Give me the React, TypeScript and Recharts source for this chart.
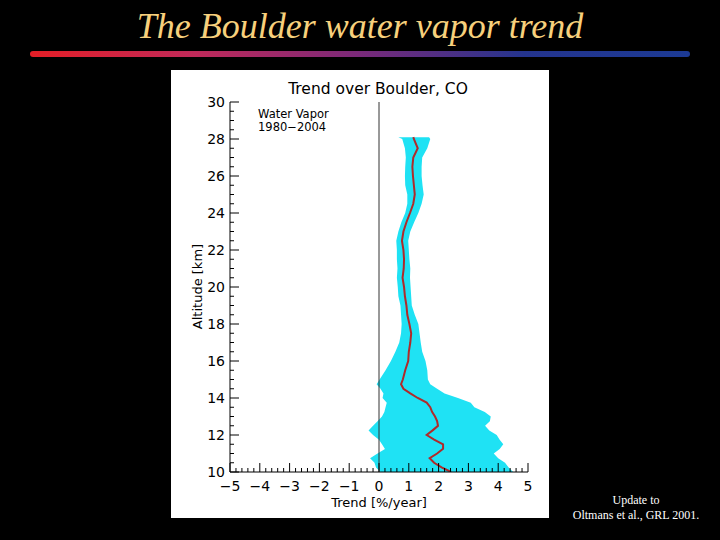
import { ComposedChart, Area, Line, XAxis, YAxis, ReferenceLine } from "recharts";

// altitude levels (km) and the water vapor trend (%/year) with its uncertainty band
const altitude = [
  10.0, 10.25, 10.5, 10.75, 11.0, 11.25, 11.5, 11.75, 12.0, 12.25, 12.5, 12.75, 13.0, 13.25, 13.5, 13.75,
  14.0, 14.25, 14.5, 14.75, 15.0, 15.5, 16.0, 16.5, 17.0, 17.5, 18.0, 18.5, 19.0, 19.5, 20.0, 20.5, 21.0,
  21.5, 22.0, 22.5, 23.0, 23.5, 24.0, 24.5, 25.0, 25.5, 26.0, 26.5, 27.0, 27.5, 28.0, 28.1,
];
const trend = [
  2.42, 2.1, 1.85, 1.7, 1.95, 2.15, 2.15, 1.85, 1.6, 1.8, 1.98, 1.95, 1.88, 1.78, 1.72, 1.6,
  1.3, 1.05, 0.82, 0.74, 0.8, 0.88, 0.98, 1.0, 1.05, 1.08, 1.02, 0.95, 0.92, 0.87, 0.84, 0.79, 0.83,
  0.84, 0.82, 0.77, 0.82, 0.92, 1.04, 1.15, 1.2, 1.17, 1.14, 1.12, 1.15, 1.3, 1.17, 1.15,
];
const lower = [
  0.05, -0.1, -0.15, -0.3, -0.05, 0.2, 0.1, 0.0, -0.2, -0.35, -0.2, -0.05, 0.1, 0.18, 0.22, 0.26,
  0.12, 0.15, 0.05, -0.08, 0.02, 0.22, 0.4, 0.55, 0.68, 0.74, 0.76, 0.74, 0.72, 0.65, 0.63, 0.6, 0.62,
  0.6, 0.6, 0.58, 0.65, 0.75, 0.88, 0.95, 0.95, 0.88, 0.87, 0.88, 0.9, 0.87, 0.78, 0.65,
];
const upper = [
  4.5, 4.35, 4.23, 4.0, 3.85, 4.05, 4.17, 4.05, 3.95, 3.7, 3.56, 3.72, 3.75, 3.55, 3.2, 3.08,
  2.65, 2.2, 1.95, 1.72, 1.64, 1.62, 1.56, 1.45, 1.4, 1.36, 1.32, 1.2, 1.1, 1.08, 1.06, 1.04, 1.05,
  1.02, 1.0, 0.98, 1.05, 1.18, 1.32, 1.43, 1.5, 1.46, 1.43, 1.43, 1.45, 1.62, 1.72, 1.68,
];

const xMajor = [-5, -4, -3, -2, -1, 0, 1, 2, 3, 4, 5];
const yMajor = [10, 12, 14, 16, 18, 20, 22, 24, 26, 28, 30];

const xTicks: number[] = [];
for (let i = -25; i <= 25; i++) xTicks.push(Math.round(i * 20) / 100);
const yTicks: number[] = [];
for (let i = 20; i <= 60; i++) yTicks.push(i / 2);

const data = altitude.map((alt, i) => ({
  alt,
  mid: trend[i],
  band: [lower[i], upper[i]],
}));

const isMajor = (v: number, list: number[]) => list.some((m) => Math.abs(m - v) < 1e-6);
const fmt = (v: number) => (v < 0 ? "\u2212" + Math.abs(v) : String(v));
const FONT = "'DejaVu Sans', sans-serif";

const BottomTick = ({ x, y, payload }: any) => {
  const major = isMajor(payload.value, xMajor);
  return (
    <g>
      <line x1={x} y1={y} x2={x} y2={y - (major ? 9 : 4)} stroke="#000" />
      {major && (
        <text x={x} y={y + 19} textAnchor="middle" fontSize={14} fontFamily={FONT} fill="#000">
          {fmt(payload.value)}
        </text>
      )}
    </g>
  );
};
const TopTick = ({ x, y, payload }: any) => {
  const major = isMajor(payload.value, xMajor);
  return <line x1={x} y1={y} x2={x} y2={y + (major ? 9 : 4)} stroke="#000" />;
};
const LeftTick = ({ x, y, payload }: any) => {
  const major = isMajor(payload.value, yMajor);
  return (
    <g>
      <line x1={x} y1={y} x2={x + (major ? 9 : 4)} y2={y} stroke="#000" />
      {major && (
        <text x={x - 5} y={y + 5} textAnchor="end" fontSize={14} fontFamily={FONT} fill="#000">
          {payload.value}
        </text>
      )}
    </g>
  );
};
const RightTick = ({ x, y, payload }: any) => {
  const major = isMajor(payload.value, yMajor);
  return <line x1={x} y1={y} x2={x - (major ? 9 : 4)} y2={y} stroke="#000" />;
};

export default function App() {
  return (
    <div style={{ position: "absolute", left: 0, top: 0, width: 720, height: 540, background: "#000", overflow: "hidden" }}>
      <div
        style={{
          position: "absolute",
          left: 0,
          top: 5,
          width: 720,
          textAlign: "center",
          fontFamily: "'Liberation Serif', serif",
          fontStyle: "italic",
          fontSize: 36,
          color: "#f7d07c",
        }}
      >
        The Boulder water vapor trend
      </div>
      <div
        style={{
          position: "absolute",
          left: 30,
          top: 51,
          width: 660,
          height: 6,
          borderRadius: 3,
          background: "linear-gradient(to right, #e41e26, #c02a5a, #7a2a7a, #24348e, #1c3a94)",
        }}
      />
      <div style={{ position: "absolute", left: 171, top: 70, width: 378, height: 448, background: "#fff" }}>
        <ComposedChart
          width={378}
          height={448}
          data={data}
          layout="vertical"
          margin={{ top: 32, right: 21, bottom: 16, left: 14 }}
        >
          <XAxis
            xAxisId="b"
            type="number"
            domain={[-5, 5]}
            ticks={xTicks}
            interval={0}
            tick={<BottomTick />}
            tickLine={false}
            tickSize={0}
            tickMargin={0}
            height={30}
            axisLine={{ stroke: "#000" }}
            allowDataOverflow
          />
          <XAxis
            xAxisId="t"
            orientation="top"
            type="number"
            domain={[-5, 5]}
            ticks={xTicks}
            interval={0}
            tick={<TopTick />}
            tickLine={false}
            tickSize={0}
            tickMargin={0}
            height={0}
            axisLine={{ stroke: "#000" }}
            allowDataOverflow
          />
          <YAxis
            yAxisId="l"
            type="number"
            dataKey="alt"
            domain={[10, 30]}
            reversed
            ticks={yTicks}
            interval={0}
            tick={<LeftTick />}
            tickLine={false}
            tickSize={0}
            tickMargin={0}
            width={45}
            axisLine={{ stroke: "#000" }}
            allowDataOverflow
          />
          <YAxis
            yAxisId="r"
            orientation="right"
            type="number"
            domain={[10, 30]}
            reversed
            ticks={yTicks}
            interval={0}
            tick={<RightTick />}
            tickLine={false}
            tickSize={0}
            tickMargin={0}
            width={0}
            axisLine={{ stroke: "#000" }}
            allowDataOverflow
          />
          <Area
            xAxisId="b"
            yAxisId="l"
            dataKey="band"
            type="linear"
            fill="#1fe2f4"
            fillOpacity={1}
            stroke="none"
            isAnimationActive={false}
          />
          <ReferenceLine xAxisId="b" yAxisId="l" x={0} stroke="#333" strokeWidth={1} />
          <Line
            xAxisId="b"
            yAxisId="l"
            dataKey="mid"
            type="linear"
            stroke="#b02a2a"
            strokeWidth={2}
            dot={false}
            isAnimationActive={false}
          />
        </ComposedChart>
        <div style={{ position: "absolute", left: 0, top: 10, width: 414, textAlign: "center", fontFamily: FONT, fontSize: 15.5, color: "#000" }}>
          Trend over Boulder, CO
        </div>
        <div style={{ position: "absolute", left: 87, top: 38, fontFamily: FONT, fontSize: 11.5, lineHeight: "13px", color: "#000" }}>
          <div>Water Vapor</div>
          <div>1980{"\u2212"}2004</div>
        </div>
        <div style={{ position: "absolute", left: 59, top: 425, width: 298, textAlign: "center", fontFamily: FONT, fontSize: 13, color: "#000" }}>
          Trend [%/year]
        </div>
        <div
          style={{
            position: "absolute",
            left: 26,
            top: 217,
            width: 0,
            height: 0,
            fontFamily: FONT,
            fontSize: 13,
            color: "#000",
          }}
        >
          <div style={{ position: "absolute", left: -60, top: -8, width: 120, textAlign: "center", transform: "rotate(-90deg)", whiteSpace: "nowrap" }}>
            Altitude [km]
          </div>
        </div>
      </div>
      <div
        style={{
          position: "absolute",
          left: 560,
          top: 493,
          width: 152,
          textAlign: "center",
          fontFamily: "'Liberation Serif', serif",
          fontSize: 12,
          lineHeight: "15px",
          color: "#fff",
        }}
      >
        Update to
        <br />
        Oltmans et al., GRL 2001.
      </div>
    </div>
  );
}
